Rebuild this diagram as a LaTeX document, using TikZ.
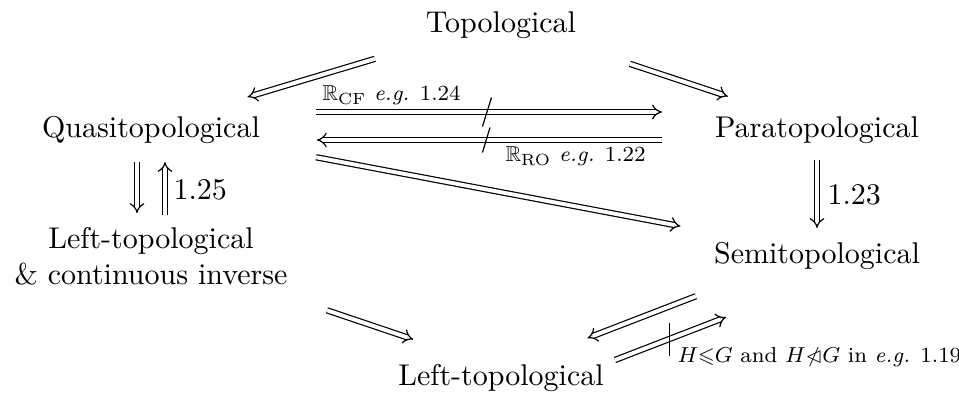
\documentclass[tikz,border=0pt]{standalone}
\usepackage{amssymb}
\usepackage{graphicx}
\usetikzlibrary{arrows.meta}
\tikzset{
  obj/.style={inner sep=0pt, text height=8pt, text depth=0pt, anchor=base},
  imp/.style={double, double distance=1.3pt, line width=0.4pt, -{Implies}},
  smalllbl/.style={inner sep=0pt, anchor=base west, font=\footnotesize},
  numlbl/.style={inner sep=0pt, anchor=base west},
  notmark/.style={line width=0.4pt},
}
\newcommand{\shrinklbl}[1]{\scalebox{0.9}{#1}}
\begin{document}
\begin{tikzpicture}[x=0.33333pt, y=-0.33333pt]
\useasboundingbox (0,0) rectangle (959,394);
% objects
\node[obj] (topo) at (501,33) {Topological};
\node[obj] (quasi) at (151,138) {Quasitopological};
\node[obj] (para) at (817,138) {Paratopological};
\node[obj] (semi) at (817,264) {Semitopological};
\node[obj] (leftb) at (501,386) {Left-topological};
\node[inner sep=0pt, align=center] (lc) at (151,256) {Left-topological\\ \& continuous inverse};
% labels
\node[smalllbl] (lcf) at (322,101) {\shrinklbl{$\mathbb{R}_{\mathrm{CF}}$ \textit{e.g.} 1.24}};
\node[smalllbl] (lro) at (505,162) {\shrinklbl{$\mathbb{R}_{\mathrm{RO}}$ \textit{e.g.} 1.22}};
\node[numlbl] (l125) at (173,200) {1.25};
\node[numlbl] (l123) at (827,205) {1.23};
\node[smalllbl] (lh) at (677,363) {\shrinklbl{$H{\leqslant}G$ and $H{\ntriangleleft}G$ in \textit{e.g.} 1.19}};
% arrows
\draw[imp, shorten <=43.9pt, shorten >=33.6pt] (topo.center) -- (quasi.center);
\draw[imp, shorten <=45.3pt, shorten >=31.3pt] (topo.center) -- (para.center);
\draw[imp, shorten <=55pt, shorten >=51.7pt] ([yshift=4.67pt]quasi.center) -- coordinate[pos=0.5045] (m1) ([yshift=4.67pt]para.center);
\draw[notmark] (m1) ++(-4.5,14.5) -- ++(9,-29);
\draw[imp, shorten <=51.7pt, shorten >=55.3pt] ([yshift=-4.67pt]para.center) -- coordinate[pos=0.497] (m2) ([yshift=-4.67pt]quasi.center);
\draw[notmark] (m2) ++(-3.5,12.5) -- ++(7.5,-25);
\draw[imp, shorten <=12pt, shorten >=14.3pt] ([xshift=-4.67pt]quasi.center) -- ([xshift=-4.67pt]lc.center);
\draw[imp, shorten <=13.7pt, shorten >=12pt] ([xshift=4.67pt]lc.center) -- ([xshift=4.67pt]quasi.center);
\draw[imp, shorten <=11.3pt, shorten >=8pt] (para.center) -- (semi.center);
\draw[imp, shorten <=56pt, shorten >=46.3pt] (quasi.center) -- (semi.center);
\draw[imp, shorten <=61.9pt, shorten >=30.9pt] ([yshift=1.67pt]lc.center) -- ([yshift=1.67pt]leftb.center);
\draw[imp, shorten <=43pt, shorten >=31.2pt] ([shift={(-0.9,-2.2)}]semi.center) -- ([shift={(-0.9,-2.2)}]leftb.center);
\draw[imp, shorten <=37.1pt, shorten >=36.1pt] ([shift={(10.1,26.1)}]leftb.center) -- coordinate[pos=0.5] (m3) ([shift={(10.1,26.1)}]semi.center);
\draw[notmark] (m3) ++(0,-16.5) -- ++(0,33);
\end{tikzpicture}
\end{document}
